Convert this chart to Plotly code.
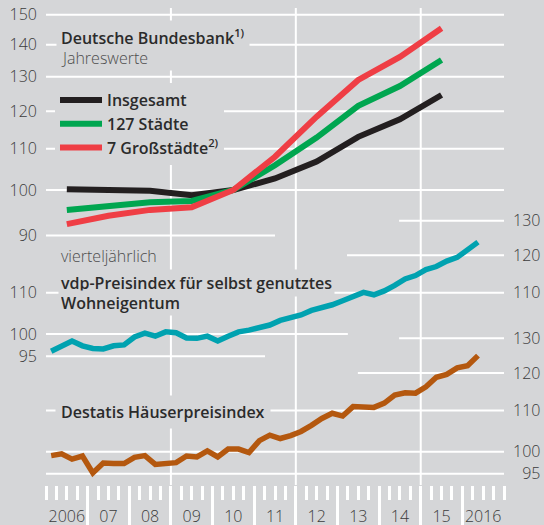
import plotly.graph_objects as go

# ---------------- data ----------------
years = [2006, 2007, 2008, 2009, 2010, 2011, 2012, 2013, 2014, 2015]
insgesamt = [100.2, 100.0, 99.8, 98.8, 100.0, 102.7, 106.8, 113.1, 117.8, 124.6]
staedte127 = [95.5, 96.4, 97.2, 97.5, 100.0, 105.9, 112.9, 121.5, 127.2, 135.1]
grossstaedte7 = [92.4, 94.2, 95.5, 96.1, 100.0, 108.0, 118.5, 129.0, 136.1, 145.4]

quarters = [(y, q) for y in range(2006, 2017) for q in range(1, 5)][:42]  # 2006Q1 .. 2016Q2
vdp = [96.1, 97.3, 98.4, 97.3, 96.7, 96.6, 97.3, 97.5, 99.3, 100.2, 99.5, 100.5,
       100.3, 99.1, 99.0, 99.5, 98.4, 99.5, 100.5, 100.9, 101.6, 102.1, 103.2, 103.8,
       104.5, 105.6, 106.2, 107.0, 108.0, 109.0, 110.1, 109.5, 110.5, 111.9, 113.6, 114.5,
       116.1, 116.9, 118.4, 119.4, 121.3, 123.7]
destatis = [99.1, 99.5, 98.3, 99.0, 95.2, 97.4, 97.3, 97.3, 98.7, 99.1, 97.1, 97.3,
            97.5, 99.0, 98.8, 100.2, 98.8, 100.6, 100.6, 99.8, 102.6, 103.9, 103.1, 103.8,
            104.8, 106.3, 108.0, 109.3, 108.6, 111.0, 110.8, 110.8, 111.9, 114.0, 114.6, 114.5,
            116.2, 118.8, 119.6, 121.4, 122.0, 124.9]

top_ticks = [90, 100, 110, 120, 130, 140, 150]
mid_left_ticks = [95, 100, 110]
mid_right_ticks = [110, 120, 130]
bot_right_ticks = [95, 100, 110, 120, 130]
year_labels = ["2006", "07", "08", "09", "10", "11", "12", "13", "14", "15", "2016"]

# ---------------- style ----------------
BG = "#d5d6d8"
FONT = "Open Sans"
TXT = "#2b2b2b"
TICK = "#3c3c3c"
C_BLACK = "#231f20"
C_GREEN = "#00a650"
C_RED = "#ef3e45"
C_TEAL = "#00a2b0"
C_BROWN = "#b4580f"

W, H = 544, 525
ML, MR, MT, MB = 46, 40, 8, 40
PW, PH = W - ML - MR, H - MT - MB
X0, X1 = 2006, 2017
PX_PER_LOG10 = 994.7
SPAN = PH / PX_PER_LOG10


def log_range(pix_of_100):
    top = 2 + (pix_of_100 - MT) / PX_PER_LOG10
    return [top - SPAN, top]


R_TOP = log_range(190)
R_MID = log_range(334)
R_BOT = log_range(451.7)


def px(xp):
    return (xp - ML) / PW


def py(yp):
    return 1 - (yp - MT) / PH


xa = [y + 0.5 for y in years]
xq = [y + (q - 0.5) / 4 for (y, q) in quarters]

fig = go.Figure()
fig.add_trace(go.Scatter(x=xa, y=insgesamt, mode="lines", name="Insgesamt",
                         line=dict(color=C_BLACK, width=6), yaxis="y"))
fig.add_trace(go.Scatter(x=xa, y=staedte127, mode="lines", name="127 Städte",
                         line=dict(color=C_GREEN, width=6), yaxis="y"))
fig.add_trace(go.Scatter(x=xa, y=grossstaedte7, mode="lines", name="7 Großstädte<sup>2)</sup>",
                         line=dict(color=C_RED, width=6), yaxis="y"))
fig.add_trace(go.Scatter(x=xq, y=vdp, mode="lines", showlegend=False,
                         line=dict(color=C_TEAL, width=5.5), yaxis="y3"))
fig.add_trace(go.Scatter(x=xq, y=destatis, mode="lines", showlegend=False,
                         line=dict(color=C_BROWN, width=5.5), yaxis="y4"))
# invisible helpers so that x2 and y2 exist
fig.add_trace(go.Scatter(x=[X0], y=[100], mode="markers", showlegend=False,
                         marker=dict(opacity=0), xaxis="x2", yaxis="y", hoverinfo="skip"))
fig.add_trace(go.Scatter(x=[X0], y=[100], mode="markers", showlegend=False,
                         marker=dict(opacity=0), yaxis="y2", hoverinfo="skip"))

# ---------------- gridlines ----------------
shapes = []
GL = dict(color="white", width=2)


def hline(yref, v, xs=X0, xe=X1):
    shapes.append(dict(type="line", xref="x", yref=yref, x0=xs, x1=xe, y0=v, y1=v,
                       line=GL, layer="below"))


for v in top_ticks:
    hline("y", v, X0, 2011.5 if v == 90 else X1)
hline("y2", 95, X0, 2011.26)
hline("y2", 100, X0, 2013.25)
hline("y2", 110)
hline("y3", 120, 2013.23, X1)
hline("y3", 130, 2014.48, X1)
hline("y4", 95)
hline("y4", 100)
hline("y4", 110)
hline("y4", 120, 2013.49, X1)
hline("y4", 130, 2014.48, X1)
for yr in [2009, 2012, 2015]:
    shapes.append(dict(type="line", xref="x", yref="paper", x0=yr, x1=yr, y0=0, y1=1,
                       line=GL, layer="below"))

# ---------------- text ----------------
anns = []


def label(text, ypix, size=16, weight=600, color=TXT, pad=4, width=None):
    a = dict(text=text, xref="paper", yref="paper", x=px(62 - pad - 2), y=py(ypix),
             xanchor="left", yanchor="middle", showarrow=False, align="left",
             font=dict(family=FONT, size=size, color=color, weight=weight),
             bgcolor=BG, borderpad=pad)
    if width:
        a["width"] = width
    anns.append(a)


label("Deutsche Bundesbank<sup>1)</sup>", 37, pad=4)
label("Jahreswerte", 58, weight=300, color="#4d4d4d", pad=1, width=140)
label("vierteljährlich", 256, weight=300, color="#4d4d4d", pad=1)
label("vdp-Preisindex für selbst genutztes", 283, pad=2)
label("Wohneigentum", 303, pad=1, width=120)
label("Destatis Häuserpreisindex", 412, pad=5)

axis_font = dict(family=FONT, size=16, color=TICK, weight=300)
common_y = dict(type="log", showgrid=False, zeroline=False, showline=False, ticks="",
                tickfont=axis_font, fixedrange=True, ticklabelstandoff=8,
                automargin=False)

fig.update_layout(
    width=W, height=H,
    margin=dict(l=ML, r=MR, t=MT, b=MB, autoexpand=False),
    paper_bgcolor=BG, plot_bgcolor=BG,
    shapes=shapes, annotations=anns,
    showlegend=True,
    legend=dict(x=px(55), y=py(83), xanchor="left", yanchor="top", bgcolor=BG,
                font=dict(family=FONT, size=16, color=TXT, weight=600),
                tracegroupgap=0, itemwidth=42),
    xaxis=dict(range=[X0, X1], showgrid=False, zeroline=False, showline=False,
               automargin=False, fixedrange=True,
               ticks="outside", tickvals=list(range(2007, 2017)), ticklen=40,
               tickwidth=3, tickcolor="white", showticklabels=False,
               minor=dict(tickvals=[X0 + i * 0.25 for i in range(45)], ticklen=14,
                          tickwidth=3, tickcolor="white", ticks="outside")),
    xaxis2=dict(range=[X0, X1], overlaying="x", anchor="y", side="bottom",
                showgrid=False, zeroline=False, showline=False, automargin=False,
                fixedrange=True,
                tickvals=[y + 0.5 for y in range(2006, 2017)], ticktext=year_labels,
                ticks="outside", ticklen=17, tickcolor="rgba(0,0,0,0)",
                tickfont=axis_font),
    yaxis=dict(range=R_TOP, tickvals=top_ticks, side="left", **common_y),
    yaxis2=dict(range=R_MID, tickvals=mid_left_ticks, side="left", overlaying="y",
                **common_y),
    yaxis3=dict(range=R_MID, tickvals=mid_right_ticks, side="right", overlaying="y",
                **common_y),
    yaxis4=dict(range=R_BOT, tickvals=bot_right_ticks,
                ticktext=["\u200795" if v < 100 else str(v) for v in bot_right_ticks],
                side="right", overlaying="y", **common_y),
)

fig.write_html("out.html", config={"displayModeBar": False, "staticPlot": True},
               post_script="document.body.style.margin='0';"
                           "document.body.style.background='" + BG + "';")
